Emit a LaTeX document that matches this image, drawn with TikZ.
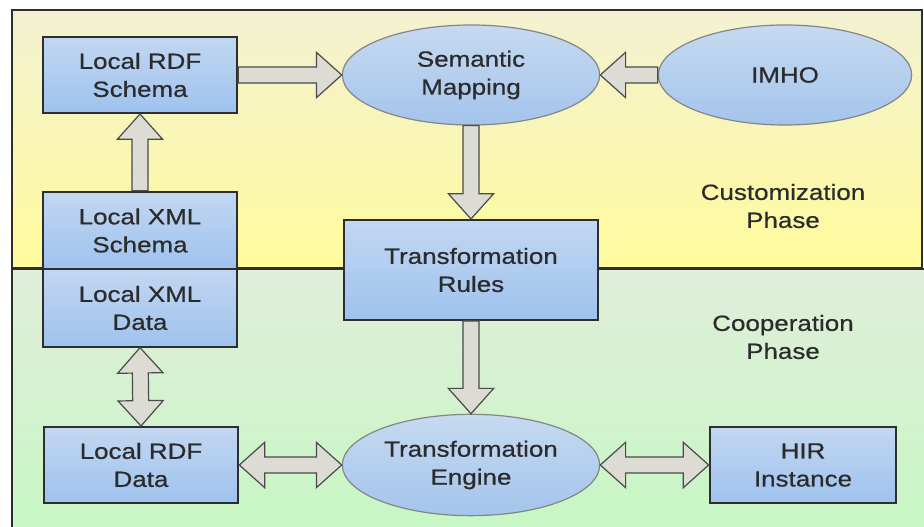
\documentclass[tikz,border=0pt]{standalone}
\usepackage{fontspec}
\setmainfont{Liberation Sans}[FakeStretch=1.18,FakeBold=0.6]
\usetikzlibrary{calc,shapes.geometric}
\definecolor{framegray}{HTML}{2E2E2E}
\definecolor{yellowtop}{HTML}{F3F1D2}
\definecolor{yellowbot}{HTML}{FFFB9C}
\definecolor{greentop}{HTML}{E0EEDA}
\definecolor{greenbot}{HTML}{C6F7C3}
\definecolor{boxtop}{HTML}{C2D7F1}
\definecolor{boxbot}{HTML}{9EC2EE}
\definecolor{ovaltop}{HTML}{C6DAF0}
\definecolor{ovalbot}{HTML}{A4C4EC}
\definecolor{ovalline}{HTML}{858585}
\definecolor{arrowfill}{HTML}{DCDCD4}
\definecolor{arrowline}{HTML}{4A4A4A}
\definecolor{labeltext}{HTML}{2B2B2B}
\tikzset{
  lbl/.style={align=center, text=labeltext, font=\fontsize{16.5}{21}\selectfont},
  box/.style={lbl, rectangle, draw=framegray, line width=1.5pt,
    top color=boxtop, bottom color=boxbot, inner sep=0pt,
    minimum width=146pt, minimum height=57pt},
  oval/.style={lbl, ellipse, draw=ovalline, line width=0.9pt,
    top color=ovaltop, bottom color=ovalbot, inner sep=0pt,
    minimum width=193pt, minimum height=75pt},
  onearrow/.style={draw=arrowline, fill=arrowfill, line width=0.9pt,
    to path={let \p1=($(\tikztotarget)!19pt!(\tikztostart)$) in
      ($(\tikztostart)!6pt!90:(\tikztotarget)$)
      -- ($(\p1)!6pt!90:(\tikztotarget)$) -- ($(\p1)!17pt!90:(\tikztotarget)$)
      -- (\tikztotarget)
      -- ($(\p1)!17pt!-90:(\tikztotarget)$) -- ($(\p1)!6pt!-90:(\tikztotarget)$)
      -- ($(\tikztostart)!6pt!-90:(\tikztotarget)$) -- cycle}},
  twoarrow/.style={draw=arrowline, fill=arrowfill, line width=0.9pt,
    to path={let \p1=($(\tikztostart)!19pt!(\tikztotarget)$),
      \p2=($(\tikztotarget)!19pt!(\tikztostart)$) in
      (\tikztostart)
      -- ($(\p1)!17pt!90:(\tikztotarget)$) -- ($(\p1)!6pt!90:(\tikztotarget)$)
      -- ($(\p2)!6pt!90:(\tikztotarget)$) -- ($(\p2)!17pt!90:(\tikztotarget)$)
      -- (\tikztotarget)
      -- ($(\p2)!17pt!-90:(\tikztotarget)$) -- ($(\p2)!6pt!-90:(\tikztotarget)$)
      -- ($(\p1)!6pt!-90:(\tikztotarget)$) -- ($(\p1)!17pt!-90:(\tikztotarget)$)
      -- cycle}}
}
\begin{document}
\begin{tikzpicture}[x=0.75pt,y=0.75pt]
  \useasboundingbox (0,0) rectangle (924,527);
  % the two phases
  \path [top color=greentop, bottom color=greenbot] (12,-10) rectangle (940,258);
  \draw [framegray, line width=1.8pt] (12,-10) -- (12,258) -- (940,258);
  \path [top color=yellowtop, bottom color=yellowbot] (12,259) rectangle (922,517);
  \draw [framegray, line width=1.5pt] (12,259) rectangle (922,517);
  \draw [framegray, line width=2.2pt] (12,-10) -- (12,517);
  \node [lbl] (custom) at (783,321) {Customization\\Phase};
  \node [lbl] (coop) at (783,190) {Cooperation\\Phase};

  \node [box] (rdfs) at (140,452) {Local RDF\\Schema};
  \node [oval] (sem) at (471,452) {Semantic\\Mapping};
  \node [oval, minimum width=190pt] (imho) at (785,452) {IMHO};
  \node [box, minimum height=58pt] (xmls) at (140,296.5) {Local XML\\Schema};
  \node [box, minimum height=58pt] (xmld) at (140,219) {Local XML\\Data};
  \node [box, minimum width=191pt, minimum height=75pt] (rules) at (471,257) {Transformation\\Rules};
  \node [box] (rdfd) at (141,62) {Local RDF\\Data};
  \node [oval, minimum height=76pt] (engine) at (471,62) {Transformation\\Engine};
  \node [box, minimum width=140pt] (hir) at (803,62) {HIR\\Instance};

  \draw [onearrow] (rdfs.east) to (sem.west);
  \draw [onearrow] (imho.west) to (sem.east);
  \draw [onearrow] (xmls.north) to (rdfs.south);
  \draw [onearrow] (sem.south) to (rules.north);
  \draw [onearrow] (rules.south) to (engine.north);
  \draw [twoarrow] (xmld.south) to (rdfd.north);
  \draw [twoarrow] (rdfd.east) to (engine.west);
  \draw [twoarrow] (engine.east) to (hir.west);
\end{tikzpicture}
\end{document}
